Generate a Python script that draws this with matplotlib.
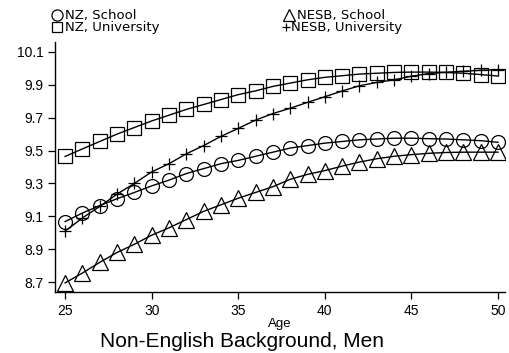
import matplotlib
matplotlib.use('Agg')
import matplotlib.pyplot as plt
from matplotlib.lines import Line2D

plt.rcParams['font.family'] = ['Liberation Sans', 'DejaVu Sans']

ages = list(range(25, 51))

nz_school = [9.068, 9.12, 9.165, 9.207, 9.245, 9.285, 9.32, 9.36, 9.39, 9.42,
             9.44, 9.465, 9.49, 9.515, 9.53, 9.545, 9.555, 9.565, 9.57, 9.575,
             9.575, 9.572, 9.57, 9.565, 9.56, 9.55]
nz_univ = [9.464, 9.51, 9.555, 9.60, 9.64, 9.68, 9.715, 9.75, 9.78, 9.81,
           9.84, 9.863, 9.89, 9.91, 9.93, 9.945, 9.955, 9.965, 9.97, 9.975,
           9.977, 9.977, 9.975, 9.97, 9.962, 9.953]
nesb_school = [8.695, 8.755, 8.82, 8.88, 8.93, 8.985, 9.03, 9.08, 9.13, 9.17,
               9.21, 9.245, 9.28, 9.325, 9.355, 9.378, 9.405, 9.43, 9.45, 9.465,
               9.475, 9.483, 9.488, 9.49, 9.49, 9.49]
nesb_univ = [9.01, 9.09, 9.16, 9.235, 9.30, 9.37, 9.42, 9.48, 9.53, 9.586,
             9.635, 9.685, 9.725, 9.757, 9.793, 9.827, 9.862, 9.894, 9.914, 9.93,
             9.952, 9.968, 9.976, 9.982, 9.988, 9.992]

series = [
    ('NZ, School', nz_school, 'o', 10),
    ('NZ, University', nz_univ, 's', 10),
    ('NESB, School', nesb_school, '^', 11),
    ('NESB, University', nesb_univ, '+', 8),
]

W, H = 510, 353
fig = plt.figure(figsize=(W / 100, H / 100), dpi=100)
ax = fig.add_axes([0.108, 0.173, 0.882, 0.708])

for label, vals, mk, ms in series:
    ax.plot(ages, vals, color='black', lw=1.0, marker=mk, markersize=ms,
            fillstyle='none', markeredgewidth=0.9)

ax.set_xlim(24.42, 50.4)
ax.set_ylim(8.64, 10.16)
ax.set_xticks([25, 30, 35, 40, 45, 50])
ax.set_yticks([8.7, 8.9, 9.1, 9.3, 9.5, 9.7, 9.9, 10.1])
ax.set_yticklabels(['8.7', '8.9', '9.1', '9.3', '9.5', '9.7', '9.9', '10.1'])
ax.tick_params(labelsize=10, length=5, width=0.9, color='black')
for side in ('top', 'right'):
    ax.spines[side].set_visible(False)
for side in ('left', 'bottom'):
    ax.spines[side].set_linewidth(1.0)

fig.text(280 / W, 1 - 327 / H, 'Age', ha='center', va='baseline', fontsize=9.5)
fig.text(242.5 / W, 1 - 347 / H, 'Non-English Background, Men', ha='center',
         va='baseline', fontsize=15)

# key at the top, two columns, placed in pixel positions
key = [(57.5, 15, 65, 19, 8), (57.5, 27, 65, 31, 7.5),
       (289, 14.5, 297, 19, 9), (285.5, 26.5, 291, 31, 5.5)]
for (label, _, mk, _), (mx, my, tx, ty, ms) in zip(series, key):
    fig.add_artist(Line2D([mx / W], [1 - my / H], transform=fig.transFigure,
                          color='black', lw=0, marker=mk, markersize=ms,
                          fillstyle='none', markeredgewidth=0.9))
    fig.text(tx / W, 1 - ty / H, label, ha='left', va='baseline',
             fontsize=9.5, family='DejaVu Sans')

fig.savefig('out.png', dpi=100)
